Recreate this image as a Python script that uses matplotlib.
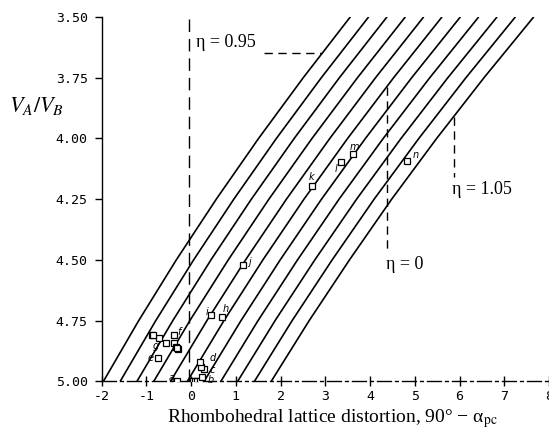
import matplotlib
matplotlib.use("Agg")
import matplotlib.pyplot as plt
import numpy as np

# ---- data ----
# y levels at which the curves were read
y_levels = [5.00, 4.75, 4.50, 4.25, 4.00, 3.75, 3.50]
# x of the first (eta = 0.95) curve at those levels
first_curve_x = [-1.96, -1.171, -0.330, 0.564, 1.51, 2.509, 3.56]
# horizontal spacing between neighbouring curves at those levels
curve_spacing = [0.375, 0.381, 0.387, 0.392, 0.398, 0.404, 0.410]
n_curves = 11

# data points (open squares)
pt_x = [-0.31, 0.04, 0.09, 0.14, 0.19, 0.25, 0.30, 0.22, 0.21, -0.74, -0.39,
        -0.72, -0.88, -0.84, -0.55, -0.39, -0.34, -0.30, -0.32,
        0.69, 0.45, 1.16, 2.71, 3.35, 3.63, 4.82]
pt_y = [5.00, 5.00, 5.00, 5.00, 5.00, 4.98, 4.95, 4.94, 4.92, 4.905, 4.81,
        4.822, 4.808, 4.81, 4.84, 4.84, 4.857, 4.866, 4.862,
        4.735, 4.725, 4.52, 4.196, 4.099, 4.066, 4.092]

# point letter labels and their positions
lab_text = ["a", "b", "c", "d", "e", "f", "g", "h", "i", "j", "k", "l", "m", "n"]
lab_x = [-0.50, 0.36, 0.41, 0.42, -0.98, -0.30, -0.86, 0.70, 0.33, 1.28, 2.62, 3.20, 3.54, 4.95]
lab_y = [4.985, 4.994, 4.952, 4.905, 4.905, 4.795, 4.855, 4.70, 4.715, 4.51, 4.16, 4.125, 4.035, 4.07]

xticks = [-2, -1, 0, 1, 2, 3, 4, 5, 6, 7, 8]
yticks = [3.50, 3.75, 4.00, 4.25, 4.50, 4.75, 5.00]

fig = plt.figure(figsize=(5.49, 4.32), dpi=100)
ax = fig.add_axes([0.185, 0.117, 0.815, 0.844])

ys = np.array(y_levels)
base = np.array(first_curve_x)
sp = np.array(curve_spacing)
for k in range(n_curves):
    ax.plot(base + k * sp, ys, color="black", lw=1.2, solid_capstyle="butt")

ax.plot(pt_x, pt_y, linestyle="none", marker="s", markersize=4.6,
        markerfacecolor="white", markeredgecolor="black", markeredgewidth=0.9,
        zorder=5)
for t, x, y in zip(lab_text, lab_x, lab_y):
    ax.text(x, y, t, fontsize=7, style="italic", family="DejaVu Sans",
            ha="left", va="center", zorder=6)

# eta annotations
dash = (0, (6, 4))
ax.plot([-0.05, -0.05], [3.51, 5.0], color="black", lw=1.0, linestyle=(0, (9, 5)))
ax.text(0.10, 3.605, "η = 0.95", fontsize=13, family="Liberation Serif",
        ha="left", va="center")
ax.plot([1.62, 2.93], [3.648, 3.648], color="black", lw=1.0, linestyle=dash)

ax.plot([4.38, 4.38], [3.79, 4.47], color="black", lw=1.0, linestyle=dash)
ax.text(4.36, 4.52, "η = 0", fontsize=13, family="Liberation Serif",
        ha="left", va="center")

ax.plot([5.87, 5.87], [3.91, 4.16], color="black", lw=1.0, linestyle=dash)
ax.text(5.84, 4.21, "η = 1.05", fontsize=13, family="Liberation Serif",
        ha="left", va="center")

ax.set_xlim(-2, 8)
ax.set_ylim(5.0, 3.5)
ax.set_xticks(xticks)
ax.set_xticklabels([str(v) for v in xticks], family="DejaVu Sans Mono")
ax.set_yticks(yticks)
ax.set_yticklabels([f"{v:.2f}" for v in yticks], family="DejaVu Sans Mono")
for s in ("top", "right"):
    ax.spines[s].set_visible(False)
ax.spines["left"].set_linewidth(1.0)
ax.spines["bottom"].set_linewidth(1.0)
ax.spines["bottom"].set_linestyle((0, (10, 3, 2, 3)))
ax.tick_params(axis="y", direction="out", length=5, width=1.0, labelsize=9.5, pad=5)
ax.tick_params(axis="x", direction="inout", length=7, width=1.0, labelsize=9.5, pad=3)
ax.patch.set_visible(False)

fig.text(0.066, 0.755, r"$V_A/V_B$", fontsize=16, ha="center", va="center",
         math_fontfamily="stix")
fig.text(0.605, 0.032, "Rhombohedral lattice distortion, 90° − α$_{\\rm pc}$",
         fontsize=14, family="Liberation Serif", ha="center", va="center",
         math_fontfamily="stix")

fig.savefig("out.png", dpi=100)
